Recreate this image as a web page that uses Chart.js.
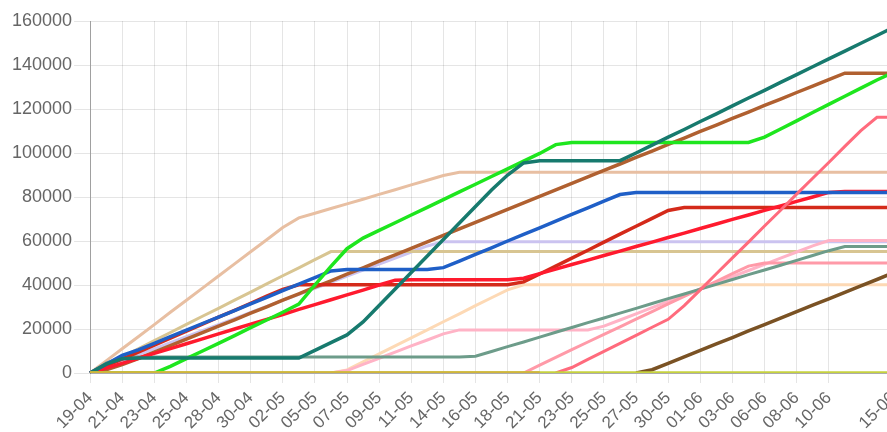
<!DOCTYPE html>
<html>
<head>
<meta charset="utf-8">
<script src="https://cdn.jsdelivr.net/npm/chart.js@4.4.0/dist/chart.umd.min.js"></script>
<style>
  html, body { margin: 0; padding: 0; overflow: hidden; background: #fff; }
  #wrap { width: 893px; height: 432px; }
</style>
</head>
<body>
<div id="wrap"><canvas id="line"></canvas></div>
<script>
// all dates in the data (x categories)
var dates = ['19-04', '20-04', '21-04', '22-04', '23-04', '24-04', '25-04', '27-04', '28-04', '29-04',
             '30-04', '01-05', '02-05', '04-05', '05-05', '06-05', '07-05', '08-05', '09-05', '10-05',
             '11-05', '13-05', '14-05', '15-05', '16-05', '17-05', '18-05', '20-05', '21-05', '22-05',
             '23-05', '24-05', '25-05', '26-05', '27-05', '29-05', '30-05', '31-05', '01-06', '02-06',
             '03-06', '05-06', '06-06', '07-06', '08-06', '09-06', '10-06', '11-06', '12-06', '13-06',
             '15-06'];

// dates that get a label + grid line on the x axis
var tickLabels = ['19-04', '21-04', '23-04', '25-04', '28-04', '30-04', '02-05', '05-05', '07-05', '09-05',
                  '11-05', '14-05', '16-05', '18-05', '21-05', '23-05', '25-05', '27-05', '30-05', '01-06',
                  '03-06', '06-06', '08-06', '10-06', '15-06'];

var gold = [0, 0, 0, 0, 0, 0, 0, 0, 0, 0, 0, 0, 0, 0, 0, 0, 0, 0, 0, 0, 0, 0, 0, 0, 0, 0, 0, 0, 0,
            null, null, null, null, null, null, null, null, null, null, null, null, null, null, null, null, null, null, null, null, null, null];
var yellowGreen = [0, 0, 0, 0, 0, 0, 0, 0, 0, 0, 0, 0, 0, 0, 0, 0, 0, 0, 0, 0, 0, 0, 0, 0, 0, 0,
                   0, 0, 0, 0, 0, 0, 0, 0, 0, 0, 0, 0, 0, 0, 0, 0, 0, 0, 0, 0, 0, 0, 0, 0, 0];
var teal = [0, 4000, 6500, 6800, 6800, 6800, 6800, 6800, 6800, 6800, 6800, 6800, 6800, 6800,
            10300, 13800, 17300, 23200, 30700, 38200, 45700, 53200, 60700, 68200, 75700, 83200, 90000,
            95500, 96500, 96500, 96500, 96500, 96500, 96500,
            100000, 103600, 107200, 110700, 114300, 117800, 121400, 125000, 128500, 132100, 135600,
            139200, 142800, 146300, 149900, 153400, 157000];
var green = [0, 0, 0, 0, 0, 3000, 6500, 10000, 13500, 17000, 20600, 24100, 27600, 31300, 40000,
             48500, 56500, 61300, 64800, 68300, 71800, 75300, 78800, 82300, 85800, 89300, 92800,
             96300, 99800, 103800, 104800, 104800, 104800, 104800, 104800, 104800, 104800, 104800,
             104800, 104800, 104800, 104800, 107200, 110900, 114600, 118400, 122100, 125800, 129500,
             133200, 136500];
var salmon = [null, null, null, null, null, null, null, null, null, null, null, null, null, null, null,
              null, null, null, null, null, null, null, null, null, null, null, null, null, null,
              0, 2500, 6200, 9800, 13500, 17100, 20800, 24400, 30600, 37800, 45100, 52300, 59500,
              66800, 74000, 81300, 88500, 95700, 103000, 110200, 116200, 116200];
var blue = [0, 4000, 8000, 10500, 13500, 16500, 19500, 22500, 25400, 28400, 31400, 34400, 37400,
            40400, 43400, 46400, 47000, 47000, 47000, 47000, 47000, 47000, 47900, 50900, 53900, 56900,
            60000, 63000, 66000, 69000, 72100, 75100, 78100, 81100, 82000, 82000, 82000, 82000, 82000,
            82000, 82000, 82000, 82000, 82000, 82000, 82000, 82000, 82000, 82000, 82000, 82000];
var brightRed = [0, 2200, 4400, 6700, 8900, 11100, 13300, 15500, 17800, 20000, 22200, 24400, 26600,
                 28900, 31100, 33300, 35500, 37700, 40000, 42200, 42400, 42400, 42400, 42400, 42400,
                 42400, 42400, 43100, 45200, 47200, 49300, 51300, 53400, 55400, 57500, 59500, 61600,
                 63600, 65700, 67700, 69800, 71800, 73900, 75900, 78000, 80000, 82100, 82500, 82500,
                 82500, 82500];
var darkRed = [0, 3200, 6300, 9500, 12700, 15800, 19000, 22200, 25400, 28500, 31700, 34900, 38000,
               40100, 40100, 40100, 40100, 40100, 40100, 40100, 40100, 40100, 40100, 40100, 40100,
               40100, 40100, 41400, 45000, 48600, 52200, 55800, 59500, 63100, 66700, 70300, 73900,
               75200, 75200, 75200, 75200, 75200, 75200, 75200, 75200, 75200, 75200, 75200, 75200,
               75200, 75200];
var brown = [0, 1500, 3800, 6500, 9500, 12400, 15400, 18300, 21300, 24200, 27200, 30100, 33100,
             36000, 39000, 41900, 44900, 47800, 50800, 53700, 56700, 59600, 62600, 65500, 68500,
             71400, 74400, 77300, 80300, 83200, 86200, 89100, 92100, 95000, 98000, 100900, 103900,
             106800, 109800, 112700, 115700, 118600, 121600, 124500, 127500, 130400, 133400, 136300,
             136300, 136300, 136300];
var sage = [0, 4500, 7000, 7300, 7300, 7300, 7300, 7300, 7300, 7300, 7300, 7300, 7300, 7300, 7300,
            7300, 7300, 7300, 7300, 7300, 7300, 7300, 7300, 7300, 7600, 9800, 12000, 14100, 16300,
            18500, 20700, 22900, 25000, 27200, 29400, 31600, 33800, 35900, 38100, 40300, 42500,
            44700, 46800, 49000, 51200, 53400, 55600, 57500, 57500, 57500, 57500];
var pink = [null, null, null, null, null, null, null, null, null, null, null, null, null, null, null,
            null, null, null, null, null, null, null, null, null, null, null, null,
            0, 3600, 7100, 10600, 14100, 17600, 21000, 24500, 27900, 31400, 34800, 38300, 41700,
            45200, 48600, 50000, 50000, 50000, 50000, 50000, 50000, 50000, 50000, 50000];
var lightPink = [null, null, null, null, null, null, null, null, null, null, null, null, null, null, null,
                 0, 1100, 3900, 6700, 9500, 12300, 15000, 17800, 19600, 19600, 19600, 19600, 19600,
                 19600, 19600, 19600, 19600, 21300, 24100, 26900, 29700, 32500, 35300, 38100, 41000,
                 43800, 46600, 49400, 52200, 55000, 57800, 60200, 60200, 60200, 60200, 60200];
var darkBrown = [null, null, null, null, null, null, null, null, null, null, null, null, null, null, null,
                 null, null, null, null, null, null, null, null, null, null, null, null, null, null,
                 null, null, null, null, null,
                 0, 1500, 4400, 7300, 10300, 13200, 16100, 19100, 22000, 24900, 27900, 30800, 33700,
                 36700, 39600, 42500, 45500];
var khaki = [0, 3700, 7400, 11000, 14700, 18400, 22100, 25800, 29400, 33100, 36800, 40500, 44200,
             47800, 51500, 55200, 55200, 55200, 55200, 55200, 55200, 55200, 55200, 55200, 55200,
             55200, 55200, 55200, 55200, 55200, 55200, 55200, 55200, 55200, 55200, 55200, 55200,
             55200, 55200, 55200, 55200, 55200, 55200, 55200, 55200, 55200, 55200, 55200, 55200,
             55200, 55200];
var peach = [0, 5500, 11000, 16500, 22000, 27600, 33100, 38600, 44100, 49600, 55100, 60600, 66100,
             70500, 72600, 74800, 76900, 79000, 81200, 83300, 85500, 87600, 89800, 91200, 91200,
             91200, 91200, 91200, 91200, 91200, 91200, 91200, 91200, 91200, 91200, 91200, 91200,
             91200, 91200, 91200, 91200, 91200, 91200, 91200, 91200, 91200, 91200, 91200, 91200,
             91200, 91200];
var lavender = [0, 2750, 5500, 8250, 11000, 13750, 16500, 19250, 22000, 24750, 27500, 30250, 33000,
                35750, 38500, 41250, 44000, 46750, 49500, 52250, 55000, 57750, 59700, 59700, 59700,
                59700, 59700, 59700, 59700, 59700, 59700, 59700, 59700, 59700, 59700, 59700, 59700,
                59700, 59700, 59700, 59700, 59700, 59700, 59700, 59700, 59700, 59700, 59700, 59700,
                59700, 59700];
var lightPeach = [null, null, null, null, null, null, null, null, null, null, null, null, null, null, null,
                  0, 1400, 5100, 8700, 12300, 16000, 19600, 23300, 26900, 30600, 34200, 37800, 40100,
                  40100, 40100, 40100, 40100, 40100, 40100, 40100, 40100, 40100, 40100, 40100, 40100,
                  40100, 40100, 40100, 40100, 40100, 40100, 40100, 40100, 40100, 40100, 40100];

function series(data, color, width) {
  return {
    data: data,
    borderColor: color,
    backgroundColor: color,
    borderWidth: width || 3,
    pointRadius: 0,
    fill: false,
    tension: 0
  };
}

var fontY = { family: "'Liberation Sans', Arial, sans-serif", size: 18 };
var fontX = { family: "'Liberation Sans', Arial, sans-serif", size: 17 };

var line = document.getElementById('line');
var lineConfig = new Chart(line, {
  type: 'line',
  data: {
    labels: dates,
    // first dataset is painted last (on top)
    datasets: [
      series(gold, '#d0b43c', 3.5),
      series(yellowGreen, '#c6d23e', 3.5),
      series(teal, '#177a6e', 3.5),
      series(green, '#1ee61e', 3.5),
      series(salmon, '#ff6b7d'),
      series(blue, '#1f5fc7', 3.5),
      series(brightRed, '#ff1a2e', 3.5),
      series(darkRed, '#d42a1a', 3.5),
      series(brown, '#b06030', 3.5),
      series(sage, '#6d9c8a'),
      series(pink, '#ff9aa8'),
      series(lightPink, '#ffb3c6'),
      series(darkBrown, '#7a5224', 3.5),
      series(khaki, '#d8c592'),
      series(peach, '#e8bfa2'),
      series(lavender, '#cbc3f0'),
      series(lightPeach, '#fdd9b5')
    ]
  },
  options: {
    responsive: true,
    maintainAspectRatio: false,
    animation: false,
    layout: { padding: { left: 10, top: 21, right: 0, bottom: 0 } },
    plugins: { legend: { display: false }, tooltip: { enabled: false } },
    scales: {
      x: {
        grid: {
          color: function (ctx) {
            return tickLabels.indexOf(dates[ctx.index]) >= 0 ? 'rgba(0,0,0,0.1)' : 'rgba(0,0,0,0)';
          },
          tickLength: 10
        },
        border: { color: 'rgba(0,0,0,0.25)' },
        ticks: {
          autoSkip: false,
          minRotation: 45,
          maxRotation: 45,
          padding: 5,
          color: '#666',
          font: fontX,
          callback: function (value, index) {
            return tickLabels.indexOf(dates[index]) >= 0 ? dates[index] : '';
          }
        },
        // keep the plot running to the right edge and the axis band as tall as in the picture
        afterFit: function (scale) { scale.paddingRight = 0; scale.height = 59; }
      },
      y: {
        min: 0,
        max: 160000,
        grid: { color: 'rgba(0,0,0,0.1)', tickLength: 16 },
        border: { color: 'rgba(0,0,0,0.3)' },
        ticks: {
          stepSize: 20000,
          padding: 2,
          color: '#666',
          font: fontY,
          callback: function (value) { return String(value); }
        }
      }
    }
  }
});
</script>
</body>
</html>
